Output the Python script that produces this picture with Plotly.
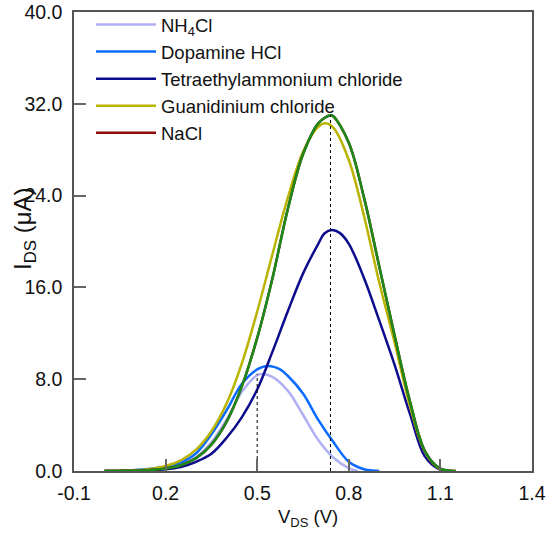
import plotly.graph_objects as go

# ---- data ----
v_nh4 = [0.0, 0.05, 0.1, 0.15, 0.2, 0.25, 0.3, 0.35, 0.4, 0.45, 0.5, 0.515, 0.55, 0.6, 0.65, 0.7, 0.75, 0.8, 0.83]
i_nh4 = [0.0, 0.02, 0.05, 0.12, 0.28, 0.6, 1.2, 2.5, 4.5, 6.9, 8.35, 8.45, 8.2, 7.0, 4.9, 2.7, 1.15, 0.25, 0.0]

v_dop = [0.0, 0.05, 0.1, 0.15, 0.2, 0.25, 0.3, 0.35, 0.4, 0.45, 0.5, 0.535, 0.575, 0.6, 0.65, 0.7, 0.75, 0.8, 0.85, 0.9]
i_dop = [0.0, 0.03, 0.08, 0.2, 0.38, 0.75, 1.55, 3.2, 5.3, 7.6, 8.85, 9.15, 8.85, 8.3, 6.75, 4.45, 2.5, 0.8, 0.15, 0.0]

v_tea = [0.0, 0.05, 0.1, 0.15, 0.2, 0.25, 0.3, 0.35, 0.4, 0.45, 0.5, 0.55, 0.6, 0.65, 0.7, 0.72, 0.745, 0.77, 0.8, 0.85, 0.9, 0.95, 1.0, 1.05, 1.1, 1.14]
i_tea = [0.0, 0.01, 0.03, 0.07, 0.15, 0.35, 0.8, 1.5, 2.9, 4.7, 7.1, 10.4, 13.9, 17.2, 19.8, 20.7, 21.0, 20.75, 19.8, 16.8, 13.1, 9.25, 5.0, 1.23, 0.1, 0.0]

v_gua = [0.0, 0.05, 0.1, 0.15, 0.2, 0.25, 0.3, 0.35, 0.4, 0.45, 0.5, 0.55, 0.6, 0.65, 0.7, 0.725, 0.75, 0.8, 0.85, 0.9, 0.95, 1.0, 1.05, 1.1, 1.15]
i_gua = [0.0, 0.03, 0.07, 0.18, 0.43, 0.93, 1.86, 3.46, 5.9, 9.4, 13.9, 18.9, 23.8, 27.8, 30.0, 30.3, 29.9, 27.1, 22.2, 16.4, 11.2, 5.7, 1.65, 0.15, 0.0]

v_nacl = [0.0, 0.05, 0.1, 0.15, 0.2, 0.25, 0.3, 0.35, 0.4, 0.45, 0.5, 0.55, 0.6, 0.65, 0.7, 0.74, 0.75, 0.8, 0.85, 0.9, 0.95, 1.0, 1.05, 1.1, 1.15]
i_nacl = [0.0, 0.01, 0.03, 0.08, 0.21, 0.5, 1.12, 2.3, 4.3, 7.4, 11.6, 16.8, 22.8, 27.6, 30.3, 31.0, 30.9, 28.6, 23.8, 17.8, 11.8, 6.1, 1.7, 0.2, 0.0]

peak_v = [0.5, 0.74]
peak_i = [8.45, 31.0]

x_ticks = [-0.1, 0.2, 0.5, 0.8, 1.1, 1.4]
x_ticktext = ["-0.1", "0.2", "0.5", "0.8", "1.1", "1.4"]
y_ticks = [0, 8, 16, 24, 32, 40]
y_ticktext = ["0.0", "8.0", "16.0", "24.0", "32.0", "40.0"]

FONT = "Liberation Sans, Arial, sans-serif"
FS = 19.5

fig = go.Figure()
line_kw = dict(mode="lines", line_shape="spline")
fig.add_trace(go.Scatter(x=v_nh4, y=i_nh4, name="NH<sub>4</sub>Cl", line=dict(color="#b0b0f4", width=2.5), **line_kw))
fig.add_trace(go.Scatter(x=v_dop, y=i_dop, name="Dopamine HCl", line=dict(color="#0a6cff", width=2.5), **line_kw))
fig.add_trace(go.Scatter(x=v_tea, y=i_tea, name="Tetraethylammonium chloride", line=dict(color="#0c0c8c", width=2.5), **line_kw))
fig.add_trace(go.Scatter(x=v_gua, y=i_gua, name="Guanidinium chloride", line=dict(color="#b8b400", width=2.5), **line_kw))
fig.add_trace(go.Scatter(x=v_nacl, y=i_nacl, name="NaCl", line=dict(color="#8f0a0a", width=2.5), **line_kw))
fig.add_trace(go.Scatter(x=v_nacl, y=i_nacl, name="NaCl", showlegend=False, line=dict(color="#1a8a1a", width=2.5), **line_kw))
for v, i in zip(peak_v, peak_i):
    fig.add_trace(go.Scatter(x=[v, v], y=[0, i], mode="lines", showlegend=False,
                             line=dict(color="black", width=1, dash="dot")))

axis_common = dict(showline=True, mirror=True, linecolor="#555555", linewidth=1.5,
                   ticks="inside", ticklen=12, tickcolor="#666666", tickwidth=1.5,
                   showgrid=False, zeroline=False, automargin=False,
                   tickfont=dict(family=FONT, size=FS, color="#111111"))
fig.update_xaxes(range=[-0.1, 1.4], tickvals=x_ticks, ticktext=x_ticktext, ticklabelstandoff=4, **axis_common)
fig.update_yaxes(range=[0, 40], tickvals=y_ticks, ticktext=y_ticktext, ticklabelstandoff=6, **axis_common)

fig.add_annotation(text="V<sub>DS</sub> (V)", xref="paper", yref="paper", x=(308 - 74) / 458, y=-(518 - 471) / 459,
                   showarrow=False, font=dict(family=FONT, size=18.5, color="#111111"), xanchor="center", yanchor="middle")
fig.add_annotation(text="I<sub>DS</sub> (μA)", xref="paper", yref="paper", x=-(74 - 24) / 458, y=(471 - 229) / 459,
                   showarrow=False, textangle=-90, font=dict(family=FONT, size=24, color="#111111"),
                   xanchor="center", yanchor="middle")

fig.update_layout(
    width=547, height=533,
    margin=dict(l=74, r=15, t=12, b=62, autoexpand=False),
    paper_bgcolor="white", plot_bgcolor="white",
    showlegend=True,
    legend=dict(x=(91 - 74) / 458, y=1.013, xanchor="left", yanchor="top", bgcolor="rgba(0,0,0,0)",
                font=dict(family=FONT, size=18.5, color="#111111"), itemwidth=60, borderwidth=0),
)

fig.write_html("out.html")
